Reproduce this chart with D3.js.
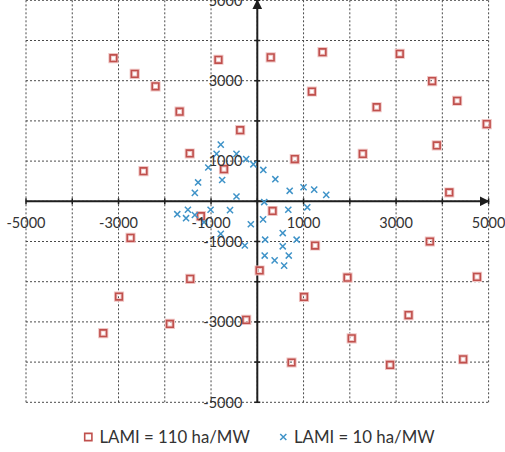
<!DOCTYPE html>
<html>
<head>
<meta charset="utf-8">
<script src="https://cdn.jsdelivr.net/npm/d3@7"></script>
<style>
    body { margin: 0; background: #fff; }
    svg { display: block; font-family: Lato, "Liberation Sans", sans-serif; }
</style>
</head>
<body>
<div id="chart"></div>
<script>
// LAMI = 110 ha/MW, [x, y]
const lami110 = [
    [-3110, 3560], [-2650, 3170], [-2200, 2860], [-1680, 2230], [-840, 3520],
    [-370, 1770], [-1460, 1190], [-2460, 750], [-720, 800],
    [290, 3580], [1410, 3710], [3080, 3670], [3780, 2990], [4320, 2500],
    [4960, 1920], [1180, 2730], [2580, 2340], [810, 1050], [2280, 1180],
    [3880, 1390], [4150, 220], [330, -240],
    [-2740, -910], [-1220, -370], [-1450, -1930], [-2990, -2370], [-1890, -3050],
    [-3330, -3280], [-240, -2950],
    [1250, -1100], [3730, -1000], [50, -1720], [1950, -1900], [4750, -1880],
    [1010, -2380], [3270, -2830], [2040, -3410], [740, -4010], [2870, -4070], [4450, -3930]
];

// LAMI = 10 ha/MW, [x, y]
const lami10 = [
    [-790, 1410], [-880, 1180], [-450, 1180], [-240, 1050], [-85, 920],
    [130, 780], [-1060, 840], [-760, 530], [-1280, 470], [-1350, 210],
    [-450, 120], [150, -20], [390, 550], [700, 260], [1000, 350],
    [1230, 290], [1490, 160], [670, -210], [1080, -150],
    [-1730, -320], [-1500, -210], [-1540, -420], [-1350, -340], [-1010, -210],
    [-1150, -520], [-590, -220], [-790, -810], [-140, -570], [-270, -1100],
    [125, -450], [170, -955], [550, -790], [850, -955], [550, -1120],
    [160, -1350], [375, -1470], [580, -1600], [680, -1350]
];

const xTickLabels = [-5000, -3000, -1000, 1000, 3000, 5000];
const yTickLabels = [5000, 3000, 1000, -1000, -3000, -5000];
const gridValues = d3.range(-5000, 5001, 1000);
const seriesNames = ["LAMI = 110 ha/MW", "LAMI = 10 ha/MW"];

const width = 505, height = 452;
const red = "#c0504d", blue = "#3f93c8";
const textColor = "#333";

const svg = d3.select("#chart").append("svg")
    .attr("width", width)
    .attr("height", height);

const x = d3.scaleLinear().domain([-5000, 5000]).range([26, 488.6]);
const y = d3.scaleLinear().domain([-5000, 5000]).range([402.3, 0.3]);

// dotted grid
const grid = svg.append("g")
    .attr("stroke", "#4a4a4a")
    .attr("stroke-width", 1)
    .attr("stroke-dasharray", "2,2");

grid.selectAll("line.v").data(gridValues).join("line")
    .attr("class", "v")
    .attr("x1", d => x(d)).attr("x2", d => x(d))
    .attr("y1", y(5000)).attr("y2", y(-5000));

grid.selectAll("line.h").data(gridValues).join("line")
    .attr("class", "h")
    .attr("x1", x(-5000)).attr("x2", x(5000))
    .attr("y1", d => y(d)).attr("y2", d => y(d));

// axes through the origin
const axisColor = "#1e1e1e";
const defs = svg.append("defs");
defs.append("marker")
    .attr("id", "arrow")
    .attr("viewBox", "0 0 10 10")
    .attr("refX", 9).attr("refY", 5)
    .attr("markerWidth", 5).attr("markerHeight", 5)
    .attr("orient", "auto")
    .append("path")
    .attr("d", "M0,0 L10,5 L0,10 z")
    .attr("fill", axisColor);

const axes = svg.append("g").attr("stroke", axisColor);

axes.append("line")
    .attr("x1", x(-5000)).attr("x2", x(5000))
    .attr("y1", y(0)).attr("y2", y(0))
    .attr("stroke-width", 2)
    .attr("marker-end", "url(#arrow)");

axes.append("line")
    .attr("x1", x(0)).attr("x2", x(0))
    .attr("y1", y(-5000)).attr("y2", y(5000))
    .attr("stroke-width", 2)
    .attr("marker-end", "url(#arrow)");

axes.selectAll("line.xt").data(gridValues).join("line")
    .attr("class", "xt")
    .attr("stroke-width", 1.5)
    .attr("x1", d => x(d)).attr("x2", d => x(d))
    .attr("y1", y(0) - 3).attr("y2", y(0) + 3);

axes.selectAll("line.yt").data(gridValues).join("line")
    .attr("class", "yt")
    .attr("stroke-width", 1.5)
    .attr("x1", x(0) - 3).attr("x2", x(0) + 3)
    .attr("y1", d => y(d)).attr("y2", d => y(d));

// markers
const square = d3.symbol().type(d3.symbolSquare).size(44);
const cross = d3.symbol().type(d3.symbolX).size(26);

const redG = svg.append("g");
redG.selectAll("path.glow").data(lami110).join("path")
    .attr("class", "glow")
    .attr("d", square)
    .attr("transform", d => `translate(${x(d[0])},${y(d[1])})`)
    .attr("fill", "none")
    .attr("stroke", "#efc4c3")
    .attr("stroke-width", 3.5);
redG.selectAll("path.mark").data(lami110).join("path")
    .attr("class", "mark")
    .attr("d", square)
    .attr("transform", d => `translate(${x(d[0])},${y(d[1])})`)
    .attr("fill", "none")
    .attr("stroke", red)
    .attr("stroke-width", 1.6);

svg.append("g").selectAll("path").data(lami10).join("path")
    .attr("d", cross)
    .attr("transform", d => `translate(${x(d[0])},${y(d[1])})`)
    .attr("fill", "none")
    .attr("stroke", blue)
    .attr("stroke-width", 1.5);

// tick labels
svg.append("g").selectAll("text").data(xTickLabels).join("text")
    .attr("x", d => x(d))
    .attr("y", y(0) + 27)
    .attr("text-anchor", "middle")
    .attr("font-size", 14.5)
    .attr("fill", textColor)
    .text(d => d);

svg.append("g").selectAll("text").data(yTickLabels).join("text")
    .attr("x", x(0) - 15)
    .attr("y", d => y(d))
    .attr("dy", "0.36em")
    .attr("text-anchor", "end")
    .attr("font-size", 14.5)
    .attr("fill", textColor)
    .text(d => d);

// legend
const legend = svg.append("g").attr("font-size", 16.8).attr("fill", textColor);
legend.append("path")
    .attr("d", d3.symbol().type(d3.symbolSquare).size(52))
    .attr("transform", "translate(88.3,437)")
    .attr("fill", "none")
    .attr("stroke", red)
    .attr("stroke-width", 1.6);
legend.append("text")
    .attr("x", 99.5).attr("y", 443)
    .text(seriesNames[0]);
legend.append("path")
    .attr("d", cross)
    .attr("transform", "translate(283.3,437)")
    .attr("fill", "none")
    .attr("stroke", blue)
    .attr("stroke-width", 1.5);
legend.append("text")
    .attr("x", 294).attr("y", 443)
    .text(seriesNames[1]);
</script>
</body>
</html>
